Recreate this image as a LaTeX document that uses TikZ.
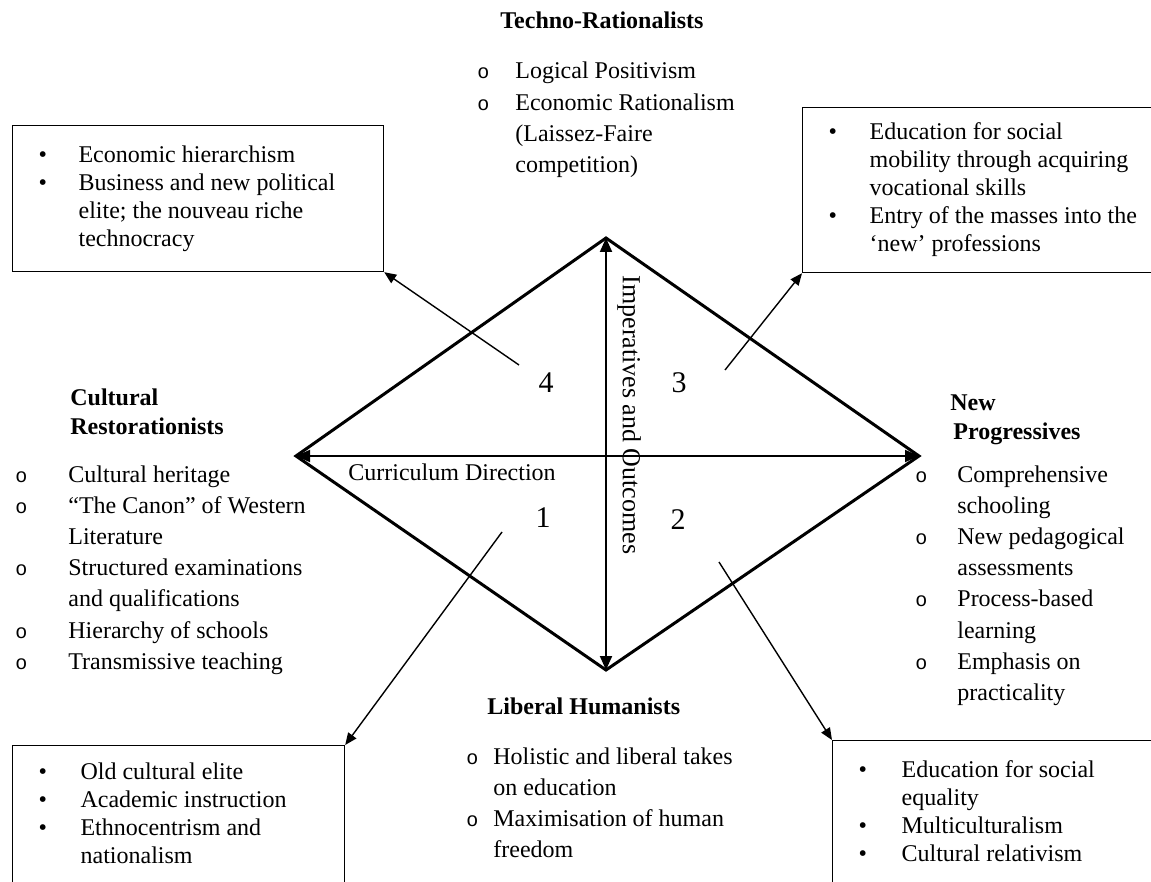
\documentclass[tikz,border=0pt]{standalone}
\usepackage{fontspec}
\setmainfont{Liberation Serif}
\newfontfamily\monobullet{Liberation Mono}
\usetikzlibrary{arrows.meta}
\tikzset{heading/.style={font=\fontsize{12}{14}\selectfont\bfseries,anchor=base west,inner sep=0pt},
  itemlist/.style={anchor=base west,inner sep=0pt,font=\fontsize{12}{15.6}\selectfont},
  infobox/.style={draw,line width=0.6pt,anchor=north west,inner xsep=13pt,inner ysep=0pt,font=\fontsize{12}{14}\selectfont},
  quadrant/.style={font=\fontsize{15}{18}\selectfont,inner sep=0pt}}
\newcommand{\ob}{{\monobullet\fontsize{10}{10}\selectfont o}}
\newcommand{\db}{\textbullet}

\begin{document}
\begin{tikzpicture}[x=0.5pt,y=-0.5pt,>={Triangle[length=7pt,width=6pt]},
  every node/.style={font=\fontsize{12}{14}\selectfont},
  axis/.style={<->,line width=1pt},
  pointer/.style={-{Triangle[length=6pt,width=5pt]},line width=0.7pt}]
\useasboundingbox (0,0) rectangle (1151,882);
\clip (0,0) rectangle (1151,882);

\coordinate (top) at (606,238);
\coordinate (left) at (296,456);
\coordinate (right) at (919,456);
\coordinate (bottom) at (606,670);

\draw[line width=1.5pt,line join=miter] (top) -- (right) -- (bottom) -- (left) -- cycle;
\draw[axis] (left) -- (right);
\draw[axis] (bottom) -- (top);

\node[quadrant] (q4) at (546,383) {4};
\node[quadrant] (q3) at (679,383) {3};
\node[quadrant] (q1) at (543,518) {1};
\node[quadrant] (q2) at (678,520) {2};
\node (curdir) at (452,472) {Curriculum Direction};
\node[rotate=-90,font=\fontsize{13}{15}\selectfont] (impout) at (629,415) {Imperatives and Outcomes};

\node[heading] (techno) at (500,29) {Techno-Rationalists};
\node[itemlist] (technolist) at (477,79) {\begin{tabular}[t]{@{}p{19pt}@{}l@{}}
\ob & Logical Positivism\\
\ob & Economic Rationalism\\
 & (Laissez-Faire\\
 & competition)
\end{tabular}};

\node[heading] (cult1) at (70,405) {Cultural};
\node[heading] (cult2) at (70,434) {Restorationists};
\node[itemlist] (cultlist) at (15,482) {\begin{tabular}[t]{@{}p{26.5pt}@{}l@{}}
\ob & Cultural heritage\\
\ob & ``The Canon'' of Western\\
 & Literature\\
\ob & Structured examinations\\
 & and qualifications\\
\ob & Hierarchy of schools\\
\ob & Transmissive teaching
\end{tabular}};

\node[heading] (prog1) at (950,410) {New};
\node[heading] (prog2) at (953,439) {Progressives};
\node[itemlist] (proglist) at (915,482) {\begin{tabular}[t]{@{}p{21pt}@{}l@{}}
\ob & Comprehensive\\
 & schooling\\
\ob & New pedagogical\\
 & assessments\\
\ob & Process-based\\
 & learning\\
\ob & Emphasis on\\
 & practicality
\end{tabular}};

\node[heading] (liberal) at (487,714) {Liberal Humanists};
\node[itemlist] (liblist) at (466,764) {\begin{tabular}[t]{@{}p{13.5pt}@{}l@{}}
\ob & Holistic and liberal takes\\
 & on education\\
\ob & Maximisation of human\\
 & freedom
\end{tabular}};

\node[infobox,minimum height=73pt] (box4) at (12,125) {\makebox[159.5pt][l]{\begin{tabular}{@{}p{20pt}@{}l@{}}
\db & Economic hierarchism\\
\db & Business and new political\\
 & elite; the nouveau riche\\
 & technocracy
\end{tabular}}};
\node[infobox,minimum height=82.5pt] (box3) at (802,107) {\makebox[149pt][l]{\begin{tabular}{@{}p{20.5pt}@{}l@{}}
\db & Education for social\\
 & mobility through acquiring\\
 & vocational skills\\
\db & Entry of the masses into the\\
 & `new' professions
\end{tabular}}};
\node[infobox,minimum height=70pt] (box1) at (12,745) {\makebox[140pt][l]{\begin{tabular}{@{}p{21pt}@{}l@{}}
\db & Old cultural elite\\
\db & Academic instruction\\
\db & Ethnocentrism and\\
 & nationalism
\end{tabular}}};
\node[infobox,minimum height=73pt] (box2) at (832,740) {\makebox[138pt][l]{\begin{tabular}{@{}p{21.5pt}@{}l@{}}
\db & Education for social\\
 & equality\\
\db & Multiculturalism\\
\db & Cultural relativism
\end{tabular}}};

\coordinate (from4) at (519,365);
\coordinate (from3) at (725,370);
\coordinate (from1) at (502,532);
\coordinate (from2) at (719,562);
\draw[pointer] (from4) -- (box4.south east);
\draw[pointer] (from3) -- (box3.south west);
\draw[pointer] (from1) -- (box1.north east);
\draw[pointer] (from2) -- (box2.north west);
\end{tikzpicture}
\end{document}
